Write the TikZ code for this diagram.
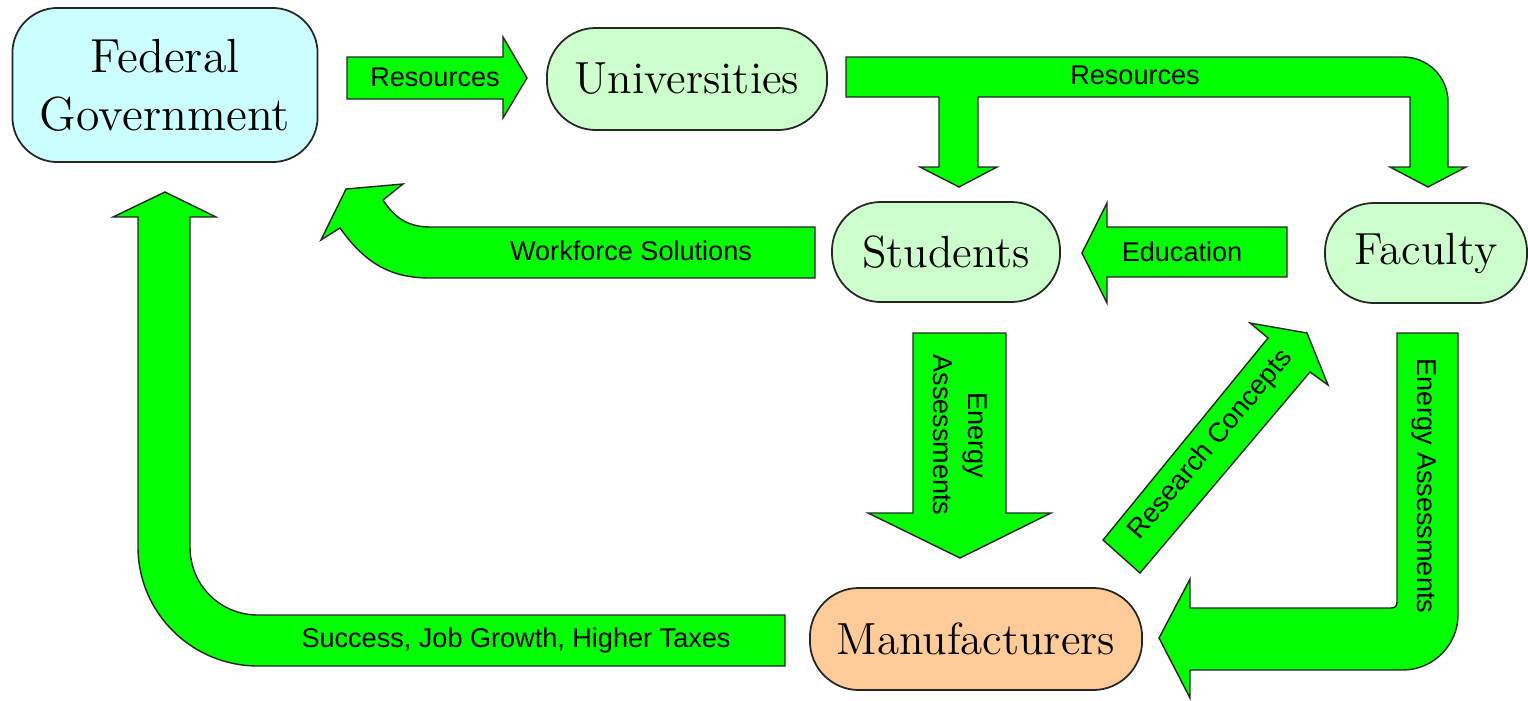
\documentclass[tikz,border=0pt]{standalone}
\usepackage{fontspec}
\newfontfamily\arialfont{Liberation Sans}
\definecolor{flowgreen}{HTML}{00FF00}
\definecolor{govblue}{HTML}{CCFFFF}
\definecolor{unigreen}{HTML}{CCFFCC}
\definecolor{mfgorange}{HTML}{FFCC99}

\begin{document}
\begin{tikzpicture}[x=0.01cm,y=-0.01cm,
    main node/.style={draw=black!85,line width=0.5pt,rounded corners=0.49cm,
      minimum height=1cm,inner sep=0pt,font=\fontsize{12.8}{16.5}\selectfont},
    uni node/.style={main node,fill=unigreen},
    flow/.style={fill=flowgreen,draw=black!85,line width=0.4pt},
    flow label/.style={font=\arialfont\fontsize{7.7}{10}\selectfont,align=center,inner sep=0pt}]
    \useasboundingbox (0,0) rectangle (1528,700);

    % boxes
    \node[main node,fill=govblue,minimum width=3.05cm,minimum height=1.54cm,
      rounded corners=0.45cm,align=center,font=\fontsize{13.6}{16.5}\selectfont] (fed) at (165,85) {Federal\\Government};
    \node[uni node,minimum width=2.8cm,minimum height=1.02cm] (uni) at (687,79) {Universities};
    \node[uni node,minimum width=2.28cm] (stu) at (946,252) {Students};
    \node[uni node,minimum width=2.02cm] (fac) at (1426,253) {Faculty};
    \node[main node,fill=mfgorange,minimum width=3.32cm,minimum height=1.02cm] (mfg) at (976,639) {Manufacturers};

    % block arrows
    \path[flow] (347,57) -- (503,57) -- (503,37) -- (527,78) -- (503,118) -- (503,99) -- (347,99) -- cycle;
    \path[flow] (846,57) -- (1403,57) .. controls (1428,57) and (1448,77) .. (1448,102)
      -- (1448,167) -- (1466,167) -- (1428,187) -- (1390,167) -- (1410,167) -- (1410,97)
      -- (978,97) -- (978,167) -- (997,167) -- (959,187) -- (920,167) -- (939,167)
      -- (939,97) -- (846,97) -- cycle;
    \path[flow] (1287,227) -- (1107,227) -- (1107,203) -- (1082,253) -- (1107,303) -- (1107,277) -- (1287,277) -- cycle;
    \path[flow] (815,227) -- (430,227) .. controls (405,227) and (393,215) .. (383,200)
      -- (403,184) -- (346,189) -- (321,240) -- (340,228)
      .. controls (365,263) and (390,278) .. (430,278) -- (815,278) -- cycle;
    \path[flow] (785,615) -- (258,615) .. controls (220,615) and (190,585) .. (190,547)
      -- (190,217) -- (216,217) -- (165,192) -- (113,217) -- (138,217) -- (138,547)
      .. controls (138,613) and (192,666) .. (258,666) -- (785,666) -- cycle;
    \path[flow] (913,333) -- (1006,333) -- (1006,513) -- (1051,513) -- (960,558) -- (868,513) -- (913,513) -- cycle;
    \path[flow] (1103,540) -- (1268,338) -- (1250,323) -- (1307,333) -- (1328,385) -- (1310,372) -- (1140,573) -- cycle;
    \path[flow] (1397,333) -- (1458,333) -- (1458,615) .. controls (1458,645) and (1433,670) .. (1403,670)
      -- (1190,670) -- (1190,698) -- (1159,638) -- (1190,579) -- (1190,608) -- (1391,608)
      .. controls (1395,608) and (1397,606) .. (1397,602) -- cycle;

    % arrow texts
    \node[flow label] (res1) at (435,77) {Resources};
    \node[flow label] (res2) at (1135,75) {Resources};
    \node[flow label] (edu) at (1182,252) {Education};
    \node[flow label] (work) at (631,251) {Workforce Solutions};
    \node[flow label] (succ) at (516,640) {Success, Job Growth, Higher Taxes};
    \node[flow label,rotate=-90] (ea1) at (960,435) {Energy\\Assessments};
    \node[flow label,rotate=50] (rc) at (1211,445) {Research Concepts};
    \node[flow label,rotate=-90] (ea2) at (1424,486) {Energy Assessments};
\end{tikzpicture}
\end{document}
